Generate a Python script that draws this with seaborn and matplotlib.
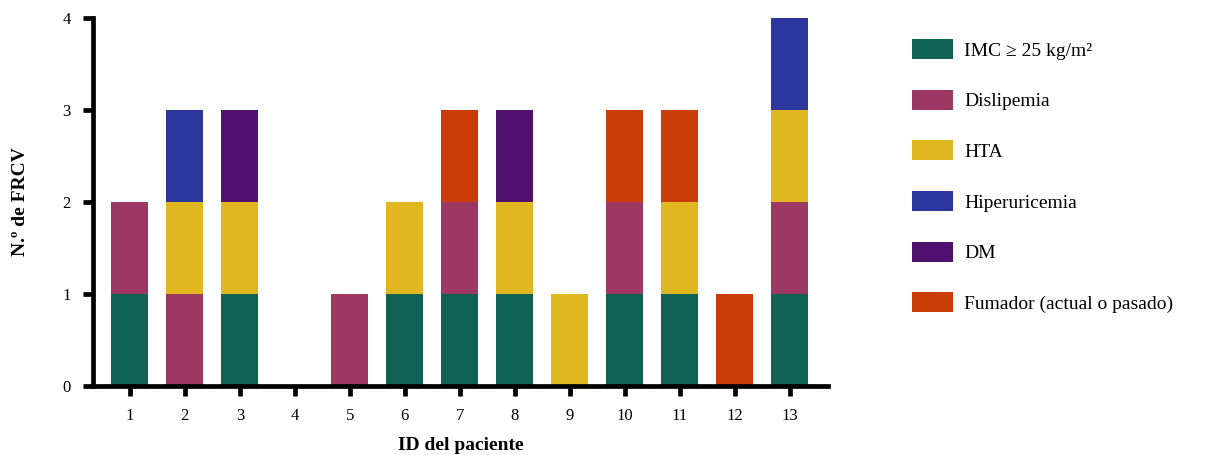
import numpy as np
import pandas as pd
import matplotlib.pyplot as plt
import seaborn as sns
from matplotlib.patches import Patch

# Data: one row per risk factor, 1 = patient has it
patients = [str(i) for i in range(1, 14)]
factors = ["IMC ≥ 25 kg/m²", "Dislipemia", "HTA", "Hiperuricemia", "DM",
           "Fumador (actual o pasado)"]
imc = [1, 0, 1, 0, 0, 1, 1, 1, 0, 1, 1, 0, 1]
dislipemia = [1, 1, 0, 0, 1, 0, 1, 0, 0, 1, 0, 0, 1]
hta = [0, 1, 1, 0, 0, 1, 0, 1, 1, 0, 1, 0, 1]
hiperuricemia = [0, 1, 0, 0, 0, 0, 0, 0, 0, 0, 0, 0, 1]
dm = [0, 0, 1, 0, 0, 0, 0, 1, 0, 0, 0, 0, 0]
fumador = [0, 0, 0, 0, 0, 0, 1, 0, 0, 1, 1, 1, 0]
colors = ["#106254", "#9D3863", "#E0B71F", "#2B379E", "#50126E", "#CC3C08"]

series = [imc, dislipemia, hta, hiperuricemia, dm, fumador]

sns.set_style("ticks", {"axes.edgecolor": "black", "xtick.color": "black",
                        "ytick.color": "black", "text.color": "black",
                        "axes.labelcolor": "black"})
plt.rcParams["font.family"] = ["Liberation Serif", "DejaVu Serif"]

fig = plt.figure(figsize=(12.05, 4.55), dpi=100)
ax = fig.add_axes([0.0772, 0.1516, 0.61, 0.8088])

bottom = np.zeros(len(patients))
for vals, c in zip(series, colors):
    sns.barplot(x=patients, y=vals, bottom=bottom, color=c, width=0.67,
                linewidth=0, saturation=1, order=patients, ax=ax)
    bottom += np.array(vals)

ax.set_xlim(-0.67, 12.7)
ax.set_ylim(0, 4)
ax.set_yticks([0, 1, 2, 3, 4])
sns.despine(ax=ax)
for s in ["left", "bottom"]:
    ax.spines[s].set_linewidth(3.4)
    ax.spines[s].set_capstyle("projecting")
ax.tick_params(axis="both", width=3.4, length=7, labelsize=12, pad=9)

ax.set_xlabel("ID del paciente", fontsize=14, fontweight="bold", labelpad=9)
ax.set_ylabel("N.º de FRCV", fontsize=14, fontweight="bold", labelpad=24)

handles = [Patch(facecolor=c, edgecolor="none", label=f) for f, c in zip(factors, colors)]
fig.legend(handles=handles, loc="upper left", bbox_to_anchor=(0.757, 0.914),
           frameon=False, fontsize=14, handlelength=2.1, handleheight=1.2,
           labelspacing=1.55, handletextpad=0.57, borderaxespad=0, borderpad=0)

fig.savefig("out.png", dpi=100)
